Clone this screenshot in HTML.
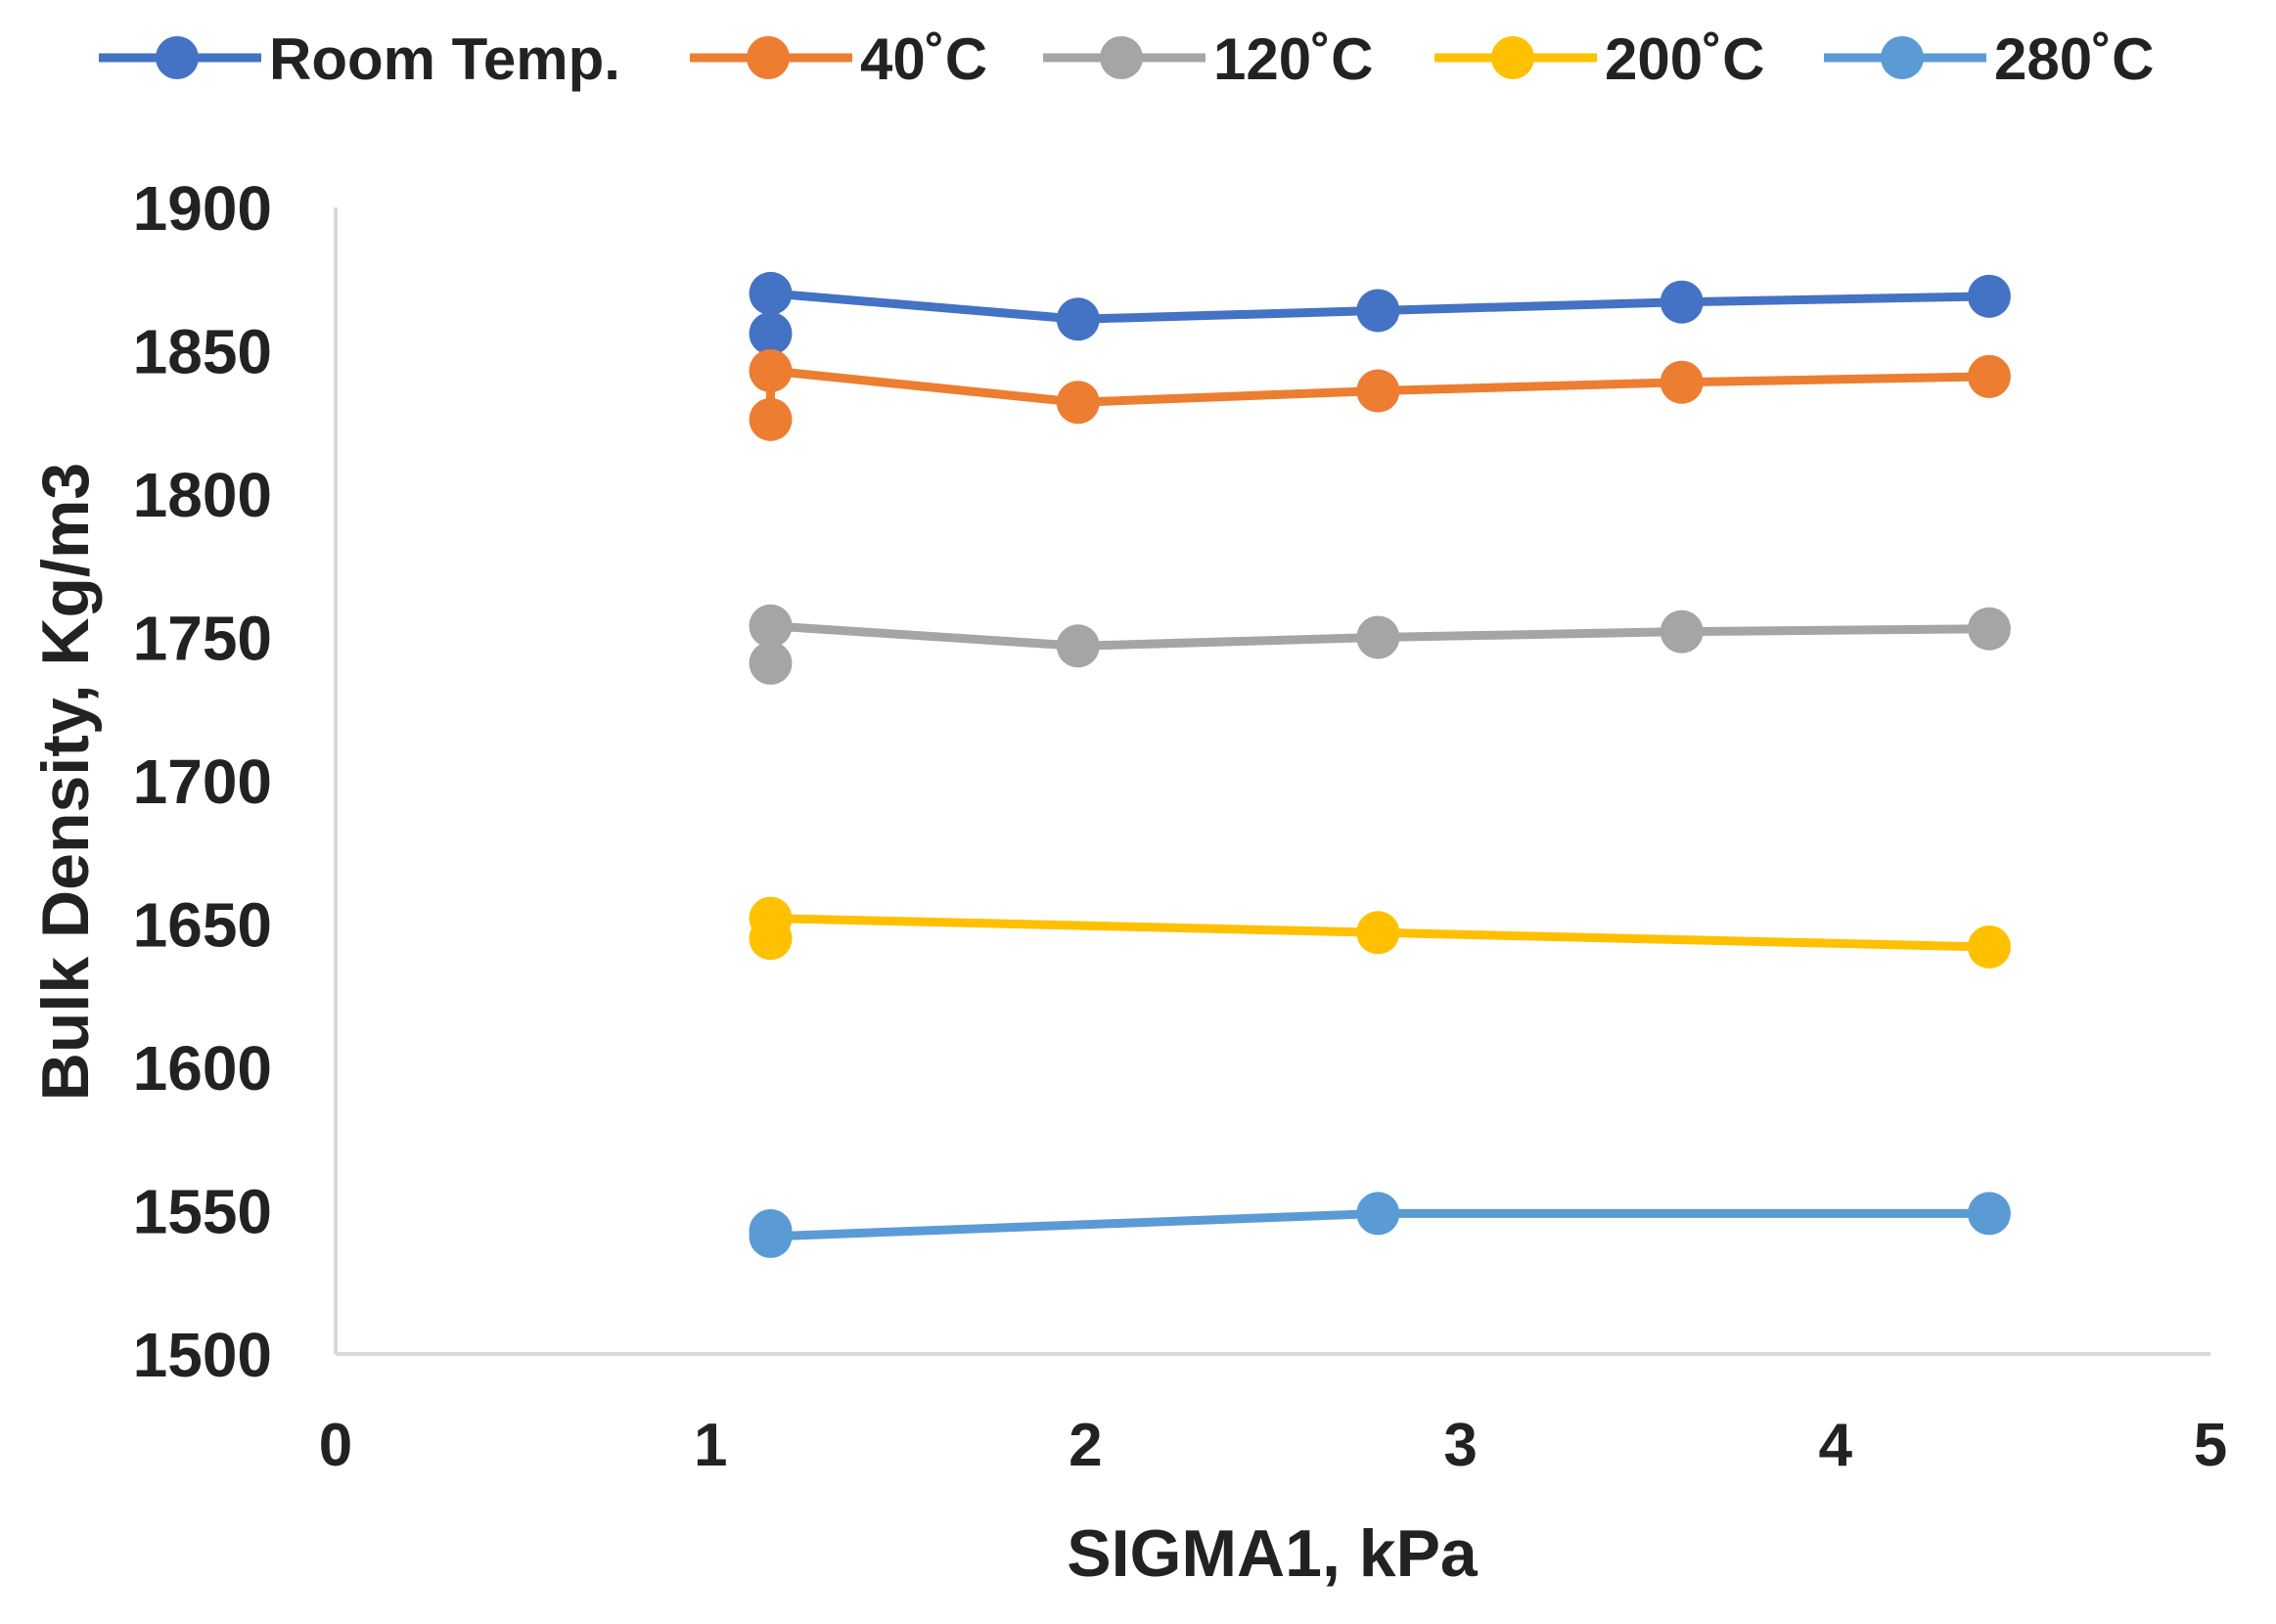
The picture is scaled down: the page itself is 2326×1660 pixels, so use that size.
<!DOCTYPE html>
<html><head><meta charset="utf-8"><style>
html,body{margin:0;padding:0;background:#fff;}
svg{display:block;font-family:"Liberation Sans",sans-serif;font-weight:bold;}
</style></head><body>
<svg id="chart" width="2326" height="1660" viewBox="0 0 2326 1660">
<g id="legend"></g>
<g id="axes"></g>
<g id="series"></g>
</svg>
<script>
const seriesNames = ["Room Temp.", "40˚C", "120˚C", "200˚C", "280˚C"];
const seriesColors = ["#4472C4", "#ED7D31", "#A5A5A5", "#FFC000", "#5B9BD5"];
const xRoom = [1.16, 1.16, 1.98, 2.78, 3.59, 4.41];
const yRoom = [1856, 1870, 1861, 1864, 1867, 1869];
const x40 = [1.16, 1.16, 1.98, 2.78, 3.59, 4.41];
const y40 = [1826, 1843, 1832, 1836, 1839, 1841];
const x120 = [1.16, 1.16, 1.98, 2.78, 3.59, 4.41];
const y120 = [1741, 1754, 1747, 1750, 1752, 1753];
const x200 = [1.16, 1.16, 2.78, 4.41];
const y200 = [1645, 1652, 1647, 1642];
const x280 = [1.16, 1.16, 2.78, 4.41];
const y280 = [1543, 1541, 1549, 1549];
const xTicks = [0, 1, 2, 3, 4, 5];
const yTicks = [1500, 1550, 1600, 1650, 1700, 1750, 1800, 1850, 1900];

const NS = "http://www.w3.org/2000/svg";
const X0 = 343, X1 = 2259, Y0 = 1384, Y1 = 212;
function sx(v){ return X0 + (v - 0) / 5 * (X1 - X0); }
function sy(v){ return Y0 - (v - 1500) / 400 * (Y0 - Y1); }
function mk(tag, attrs, parent){
  const e = document.createElementNS(NS, tag);
  for (const k in attrs) e.setAttribute(k, attrs[k]);
  parent.appendChild(e);
  return e;
}
const axes = document.getElementById("axes");
let a = mk("line", {x1:X0, y1:Y1, x2:X0, y2:Y0, stroke:"#d9d9d9", "stroke-width":4}, axes);


a = mk("line", {x1:X0, y1:Y0, x2:X1, y2:Y0, stroke:"#d9d9d9", "stroke-width":4}, axes);


yTicks.forEach(t => {
  const e = mk("text", {x:278, y:sy(t)+23, "text-anchor":"end", "font-size":64, fill:"#222"}, axes);
  e.textContent = t;
  
  
});
xTicks.forEach(t => {
  const e = mk("text", {x:sx(t), y:1498, "text-anchor":"middle", "font-size":62, fill:"#222"}, axes);
  e.textContent = t;
  
  
});
let t = mk("text", {x:1300, y:1611, "text-anchor":"middle", "font-size":68, fill:"#222"}, axes);
t.textContent = "SIGMA1, kPa";


t = mk("text", {x:0, y:0, "text-anchor":"middle", "font-size":68, fill:"#222", transform:"translate(90,799) rotate(-90)"}, axes);
t.textContent = "Bulk Density, Kg/m3";



const allX = [xRoom, x40, x120, x200, x280];
const allY = [yRoom, y40, y120, y200, y280];
const sg = document.getElementById("series");
allX.forEach((xs, i) => {
  const g = mk("g", {}, sg);
  
  
  const pts = xs.map((x, j) => sx(x) + "," + sy(allY[i][j])).join(" ");
  const pl = mk("polyline", {points:pts, fill:"none", stroke:seriesColors[i], "stroke-width":9, "stroke-linejoin":"round"}, g);
  
  
  xs.forEach((x, j) => {
    const c = mk("circle", {cx:sx(x), cy:sy(allY[i][j]), r:22, fill:seriesColors[i]}, g);
    
    
  });
});

const lg = document.getElementById("legend");
const legX = [101, 705, 1066, 1466, 1864];
seriesNames.forEach((n, i) => {
  const g = mk("g", {}, lg);
  
  
  const x = legX[i];
  mk("line", {x1:x, y1:59, x2:x+166, y2:59, stroke:seriesColors[i], "stroke-width":9}, g);
  mk("circle", {cx:x+80, cy:59, r:22, fill:seriesColors[i]}, g);
  const tx = mk("text", {x:x+174, y:81, "font-size":60, fill:"#222"}, g);
  tx.textContent = n;
});
</script>
</body></html>
